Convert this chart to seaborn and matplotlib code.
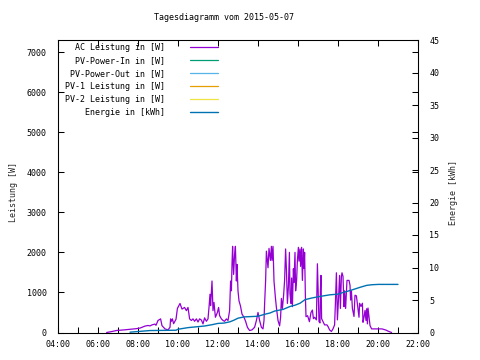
import matplotlib
matplotlib.use("Agg")
import matplotlib.pyplot as plt
import seaborn as sns
from matplotlib.ticker import FixedLocator

# ---- data ----
ac_hours = [6.43, 6.7, 6.93, 7.3, 7.6, 7.9, 8.1, 8.35, 8.5, 8.6, 8.7, 8.85, 8.9, 9.0, 9.13,
            9.2, 9.35, 9.5, 9.6, 9.63, 9.67, 9.72, 9.78, 9.9, 9.97, 10.1, 10.2, 10.33, 10.42,
            10.5, 10.58, 10.67, 10.75, 10.83, 10.92, 11.0, 11.08, 11.17, 11.25, 11.33, 11.42,
            11.5, 11.55, 11.6, 11.63, 11.7, 11.75, 11.8, 11.87, 11.97, 12.03, 12.08, 12.17,
            12.25, 12.33, 12.42, 12.5, 12.58, 12.63, 12.67, 12.7, 12.73, 12.78, 12.83, 12.87,
            12.92, 12.95, 13.0, 13.05, 13.12, 13.2, 13.3, 13.38, 13.47, 13.58, 13.7, 13.83,
            13.92, 14.0, 14.08, 14.17, 14.25, 14.3, 14.33, 14.38, 14.42, 14.5, 14.55, 14.62,
            14.67, 14.7, 14.75, 14.8, 14.87, 14.92, 15.0, 15.08, 15.13, 15.17, 15.22, 15.28,
            15.33, 15.38, 15.42, 15.47, 15.52, 15.57, 15.6, 15.65, 15.68, 15.72, 15.77, 15.8,
            15.85, 15.88, 15.93, 15.97, 16.02, 16.05, 16.1, 16.13, 16.18, 16.22, 16.27, 16.3,
            16.33, 16.37, 16.4, 16.48, 16.57, 16.65, 16.72, 16.77, 16.83, 16.88, 16.92, 16.97,
            17.0, 17.05, 17.1, 17.12, 17.15, 17.18, 17.25, 17.33, 17.45, 17.5, 17.58, 17.67,
            17.75, 17.83, 17.87, 17.92, 17.97, 18.03, 18.08, 18.12, 18.17, 18.2, 18.25, 18.3,
            18.33, 18.38, 18.45, 18.55, 18.6, 18.63, 18.67, 18.72, 18.8, 18.85, 18.92, 18.97,
            19.05, 19.08, 19.15, 19.22, 19.25, 19.3, 19.35, 19.4, 19.43, 19.47, 19.5, 19.55,
            19.6, 19.68, 20.2, 20.3, 20.4, 20.52, 20.68]
ac_watts = [0, 25, 50, 65, 80, 95, 110, 160, 175, 165, 190, 210, 180, 300, 340,
            170, 90, 65, 130, 340, 280, 340, 220, 330, 600, 725, 585, 625, 545,
            625, 340, 300, 340, 280, 340, 262, 340, 310, 215, 365, 280,
            340, 625, 955, 670, 1285, 545, 750, 380, 500, 625, 420, 340,
            300, 280, 340, 300, 545, 1285, 1040, 1700, 2150, 1450, 1945, 2150,
            1285, 1700, 1040, 790, 670, 460, 380, 280, 130, 50, 65, 130,
            300, 500, 300, 130, 90, 300, 710, 1285, 2030, 1615, 2100, 1800,
            2150, 1800, 2150, 1285, 870, 625, 300, 165, 380, 850, 600, 930,
            1300, 2085, 1590, 725, 1140, 2000, 970, 725, 1360, 645, 1590, 1250,
            2000, 1040, 1300, 1800, 2125, 1780, 2085, 1650, 2125, 1300, 2085, 1600,
            2000, 890, 395, 420, 270, 500, 560, 345, 380, 345, 315, 1715,
            1140, 270, 240, 1040, 1425, 345, 270, 190, 190, 150, 65, 25,
            91, 190, 725, 1490, 315, 890, 1425, 600, 1400, 1490, 1400, 645,
            1040, 600, 1300, 1300, 1180, 810, 1040, 600, 400, 930, 915, 710,
            380, 730, 650, 730, 255, 380, 550, 300, 590, 215, 610, 400,
            175, 90, 90, 75, 60, 30, 0]

energy_hours = [7.6, 8.6, 9.9, 10.0, 10.5, 11.0, 11.33, 11.7, 12.0, 12.3, 12.6, 12.8, 13.0,
                13.3, 14.0, 14.33, 14.6, 14.83, 15.25, 15.6, 15.85, 16.1, 16.35, 16.68, 17.1,
                17.6, 18.0, 18.3, 18.43, 18.75, 19.1, 19.43, 19.7, 20.02, 21.0]
energy_kwh = [0.05, 0.3, 0.35, 0.5, 0.75, 0.9, 1.0, 1.2, 1.4, 1.45, 1.65, 1.9, 2.2,
              2.4, 2.5, 2.8, 3.0, 3.3, 3.55, 4.0, 4.2, 4.5, 5.05, 5.3, 5.55,
              5.8, 5.9, 6.2, 6.3, 6.6, 6.95, 7.25, 7.35, 7.4, 7.4]

series_labels = ["AC Leistung in [W]", "PV-Power-In in [W]", "PV-Power-Out in [W]",
                 "PV-1 Leistung in [W]", "PV-2 Leistung in [W]", "Energie in [kWh]"]
series_colors = ["#9400d3", "#009e73", "#56b4e9", "#e69f00", "#f0e442", "#0072b2"]

x_tick_hours = [4, 6, 8, 10, 12, 14, 16, 18, 20, 22]
x_tick_labels = ["04:00", "06:00", "08:00", "10:00", "12:00", "14:00", "16:00",
                 "18:00", "20:00", "22:00"]
x_minor_hours = [5, 7, 9, 11, 13, 15, 17, 19, 21]
y1_ticks = [0, 1000, 2000, 3000, 4000, 5000, 6000, 7000]
y2_ticks = [0, 5, 10, 15, 20, 25, 30, 35, 40, 45]

title = "Tagesdiagramm vom 2015-05-07"

# ---- style ----
sns.set_style("white")
plt.rcParams['font.family'] = ['DejaVu Sans Mono', 'DejaVu Sans']
plt.rcParams['font.size'] = 6
plt.rcParams['axes.edgecolor'] = 'black'
plt.rcParams['axes.linewidth'] = 0.75
plt.rcParams['text.color'] = 'black'
plt.rcParams['xtick.color'] = 'black'
plt.rcParams['ytick.color'] = 'black'

fig = plt.figure(figsize=(4.8, 3.6), dpi=100)
ax = fig.add_axes([58 / 480, 1 - 332.5 / 360, 360 / 480, 292.5 / 360])
ax2 = ax.twinx()

sns.lineplot(x=ac_hours, y=ac_watts, ax=ax, color=series_colors[0], linewidth=0.9,
             estimator=None, sort=False, legend=False)
ax.lines[-1].set_label(series_labels[0])
for lab, col in zip(series_labels[1:5], series_colors[1:5]):
    ax.plot([], [], color=col, linewidth=0.9, label=lab)

sns.lineplot(x=energy_hours, y=energy_kwh, ax=ax2, color=series_colors[5], linewidth=1.0,
             estimator=None, sort=False, legend=False)
ax2.lines[-1].set_label(series_labels[5])

ax.set_xlim(4, 22)
ax.set_ylim(0, 7300)
ax2.set_ylim(0, 45)

ax.set_xticks(x_tick_hours)
ax.set_xticklabels(x_tick_labels)
ax.xaxis.set_minor_locator(FixedLocator(x_minor_hours))
ax.set_yticks(y1_ticks)
ax.set_yticklabels([str(v) for v in y1_ticks])
ax2.set_yticks(y2_ticks)
ax2.set_yticklabels([str(v) for v in y2_ticks])

ax.tick_params(axis='x', which='major', direction='in', length=4, width=0.75,
               top=True, bottom=True, pad=5.5, labelsize=6)
ax.tick_params(axis='x', which='minor', direction='in', length=4, width=0.75,
               top=False, bottom=True)
ax.tick_params(axis='y', direction='in', length=4, width=0.75, left=True, right=True,
               pad=8, labelsize=6)
ax2.tick_params(axis='y', direction='in', length=4, width=0.75, right=True, pad=8,
                labelsize=6)

ax.set_xlabel("")
ax.set_ylabel("Leistung [W]", fontsize=6)
ax.yaxis.set_label_coords(-0.11, 0.48)
ax2.set_ylabel("Energie [kWh]", fontsize=6)
ax2.yaxis.set_label_coords(1.085, 0.48)

for a in (ax, ax2):
    for s in a.spines.values():
        s.set_color('black')
        s.set_linewidth(0.75)

fig.text(223.7 / 480, 1 - 18 / 360, title, ha='center', va='center', fontsize=6)

handles = ax.lines + ax2.lines
leg = ax2.legend(handles, series_labels, loc='upper right',
                 bbox_to_anchor=(218 / 480, 1 - 42.5 / 360), bbox_transform=fig.transFigure,
                 frameon=False, markerfirst=False, handlelength=3.4, handletextpad=3.0,
                 labelspacing=0.5, borderpad=0, borderaxespad=0, fontsize=6)
for vp in leg._legend_handle_box.get_children():
    vp.align = 'right'

fig.savefig("out.png", dpi=100)
